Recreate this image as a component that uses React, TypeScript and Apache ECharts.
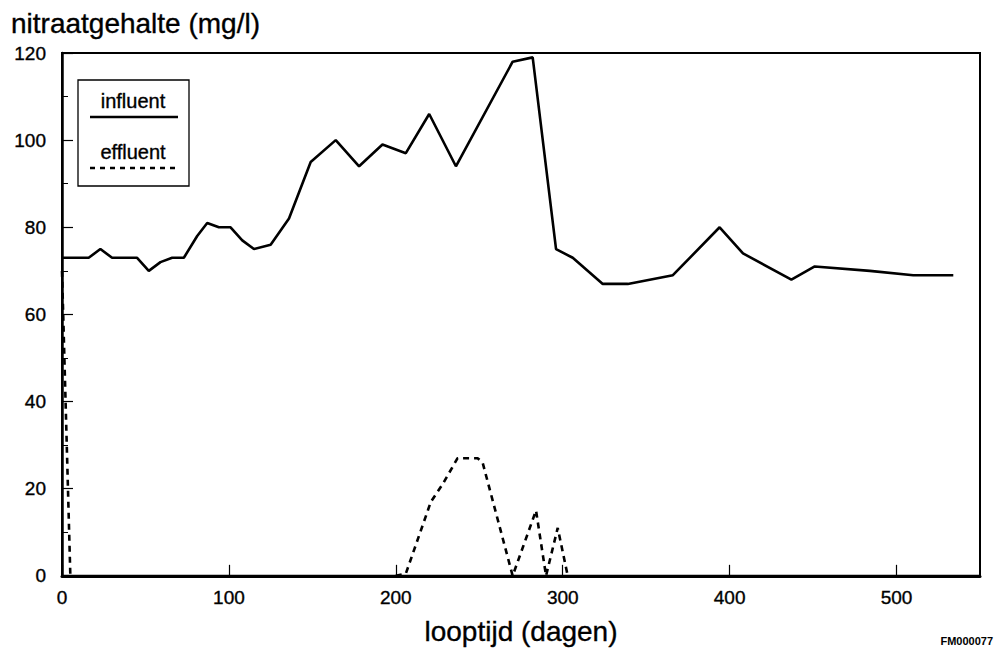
import React, { useEffect, useRef } from "react";
import * as echarts from "echarts";

const influentDays = [0, 16, 23, 30, 45, 52, 59, 66, 73, 81, 87, 94, 101, 108, 115, 125, 136, 149, 164, 178, 192, 206, 220, 236, 270, 282, 296, 306, 324, 339, 366, 394, 408, 437, 451, 484, 510, 534];
const influentValues = [73, 73, 75, 73, 73, 70, 72, 73, 73, 78, 81, 80, 80, 77, 75, 76, 82, 95, 100, 94, 99, 97, 106, 94, 118, 119, 75, 73, 67, 67, 69, 80, 74, 68, 71, 70, 69, 69];

// null = effluent at 0 (hidden behind the axis line), drawn as a gap
const effluentDays = [0, 5, 100, 200, 206, 221, 228, 237, 249, 252, 270, 284, 290, 297, 303];
const effluentValues: (number | null)[] = [70, 0, null, 0, 0.5, 17, 21, 27, 27, 26, 0, 15, 0, 11, 0];

const xTicks = { min: 0, max: 550, interval: 100 };
const yTicks = { min: 0, max: 120, interval: 20 };

const FONT = "'Liberation Sans', Arial, Helvetica, sans-serif";
const STROKE = { textBorderColor: "#000", textBorderWidth: 0.35 };

export default function App() {
  const ref = useRef<HTMLDivElement>(null);
  useEffect(() => {
    if (!ref.current) return;
    const chart = echarts.init(ref.current, null, { renderer: "svg" });
    const influent = influentDays.map((d, i) => [d, influentValues[i]]);
    const effluent = effluentDays.map((d, i) => [d, effluentValues[i] === null ? "-" : effluentValues[i]]);
    chart.setOption({
      animation: false,
      backgroundColor: "#fff",
      textStyle: { fontFamily: FONT, color: "#000" },
      title: {
        text: "nitraatgehalte (mg/l)",
        left: 6,
        top: 4,
        textStyle: { fontFamily: FONT, fontSize: 28, fontWeight: "normal", color: "#000", ...STROKE },
      },
      grid: {
        left: 62,
        right: 20,
        top: 53,
        bottom: 75,
        show: true,
        borderColor: "#000",
        borderWidth: 2,
      },
      xAxis: {
        type: "value",
        z: 5,
        min: xTicks.min,
        max: xTicks.max,
        interval: xTicks.interval,
        name: "looptijd (dagen)",
        nameLocation: "middle",
        nameGap: 42,
        nameTextStyle: { fontFamily: FONT, fontSize: 28, color: "#000", ...STROKE },
        axisLine: { show: true, lineStyle: { color: "#000", width: 3 } },
        axisTick: { show: true, inside: true, length: 11, lineStyle: { color: "#000", width: 1.2 } },
        axisLabel: { fontFamily: FONT, fontSize: 19, color: "#000", margin: 12, showMaxLabel: false, ...STROKE },
        splitLine: { show: false },
      },
      yAxis: {
        type: "value",
        min: yTicks.min,
        max: yTicks.max,
        interval: yTicks.interval,
        axisLine: { show: true, lineStyle: { color: "#000", width: 2.5 } },
        axisTick: { show: true, inside: true, length: 11, lineStyle: { color: "#000", width: 1.2 } },
        minorTick: { show: true, splitNumber: 2, length: 6, lineStyle: { color: "#000", width: 1 } },
        axisLabel: { fontFamily: FONT, fontSize: 19, color: "#000", margin: 16, ...STROKE },
        splitLine: { show: false },
      },
      series: [
        {
          name: "influent",
          type: "line",
          data: influent,
          showSymbol: false,
          symbol: "none",
          lineStyle: { color: "#000", width: 2.6, type: "solid" },
        },
        {
          name: "effluent",
          type: "line",
          data: effluent,
          connectNulls: false,
          showSymbol: false,
          symbol: "none",
          lineStyle: { color: "#000", width: 2.6, type: [6, 5] },
        },
      ],
      graphic: [
        {
          type: "rect",
          shape: { x: 78, y: 80, width: 111, height: 106 },
          style: { fill: "#fff", stroke: "#000", lineWidth: 1.3 },
          z: 10,
        },
        {
          type: "text",
          x: 133,
          y: 101,
          style: { text: "influent", fontFamily: FONT, fontSize: 20, fill: "#000", align: "center", verticalAlign: "middle", stroke: "#000", lineWidth: 0.35 },
          z: 11,
        },
        {
          type: "line",
          shape: { x1: 90, y1: 117, x2: 178, y2: 117 },
          style: { stroke: "#000", lineWidth: 2.6 },
          z: 11,
        },
        {
          type: "text",
          x: 133,
          y: 152,
          style: { text: "effluent", fontFamily: FONT, fontSize: 20, fill: "#000", align: "center", verticalAlign: "middle", stroke: "#000", lineWidth: 0.35 },
          z: 11,
        },
        {
          type: "line",
          shape: { x1: 90, y1: 168, x2: 177, y2: 168 },
          style: { stroke: "#000", lineWidth: 2.6, lineDash: [5, 5] },
          z: 11,
        },
        {
          type: "text",
          x: 993,
          y: 641,
          style: { text: "FM000077", fontFamily: FONT, fontSize: 11, fontWeight: "bold", fill: "#000", align: "right", verticalAlign: "middle" },
          z: 11,
        },
      ],
    });
    return () => chart.dispose();
  }, []);
  return (
    <div style={{ position: "fixed", left: 0, top: 0, width: 1000, height: 651, background: "#fff" }}>
      <div ref={ref} style={{ width: 1000, height: 651 }} />
    </div>
  );
}
